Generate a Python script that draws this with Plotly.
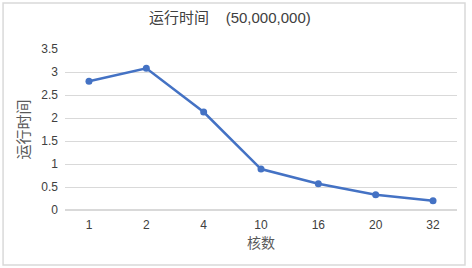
import plotly.graph_objects as go

cores = ["1", "2", "4", "10", "16", "20", "32"]
runtime = [2.80, 3.08, 2.13, 0.89, 0.57, 0.33, 0.20]
y_ticks = [0, 0.5, 1, 1.5, 2, 2.5, 3, 3.5]
y_tick_labels = ["0", "0.5", "1", "1.5", "2", "2.5", "3", "3.5"]

font_fam = "Liberation Sans, Noto Sans CJK SC, sans-serif"
cjk_fam = "Noto Sans CJK SC, sans-serif"

fig = go.Figure()
fig.add_trace(go.Scatter(
    x=cores, y=runtime, mode="lines+markers",
    line=dict(color="#4472C4", width=2.5),
    marker=dict(color="#4472C4", size=7),
    showlegend=False,
))

fig.update_layout(
    width=472, height=268,
    margin=dict(l=65, r=15, t=49, b=58),
    paper_bgcolor="white", plot_bgcolor="white",
    font=dict(family=font_fam, size=12, color="#595959"),
    title=dict(text="运行时间    (50,000,000)", x=0.487, xanchor="center", y=0.933, yanchor="middle",
               font=dict(family=font_fam, size=15, color="#404040")),
    xaxis=dict(type="category", showgrid=False, showline=False, zeroline=False,
               ticks="", ticklabelstandoff=6, tickfont=dict(size=12, color="#404040"),
               title=dict(text="核数", standoff=4, font=dict(family=cjk_fam, size=14, color="#595959"))),
    yaxis=dict(range=[0, 3.5], tickvals=y_ticks, ticktext=y_tick_labels,
               showgrid=True, gridcolor="#D9D9D9", gridwidth=1, zeroline=True, zerolinecolor="#D9D9D9",
               showline=False, ticks="", ticklabelstandoff=6,
               tickfont=dict(size=12, color="#404040"),
               title=dict(text="运行时间", standoff=8, font=dict(family=cjk_fam, size=15, color="#595959"))),
)

fig.add_shape(type="rect", xref="paper", yref="paper",
              x0=-0.158, x1=1.0204, y0=-0.342, y1=1.286,
              line=dict(color="#D9D9D9", width=1.5), fillcolor="rgba(0,0,0,0)", layer="below")

fig.write_html("out.html",
               config={"displayModeBar": False},
               post_script="document.body.style.margin='0';document.body.style.overflow='hidden';")
